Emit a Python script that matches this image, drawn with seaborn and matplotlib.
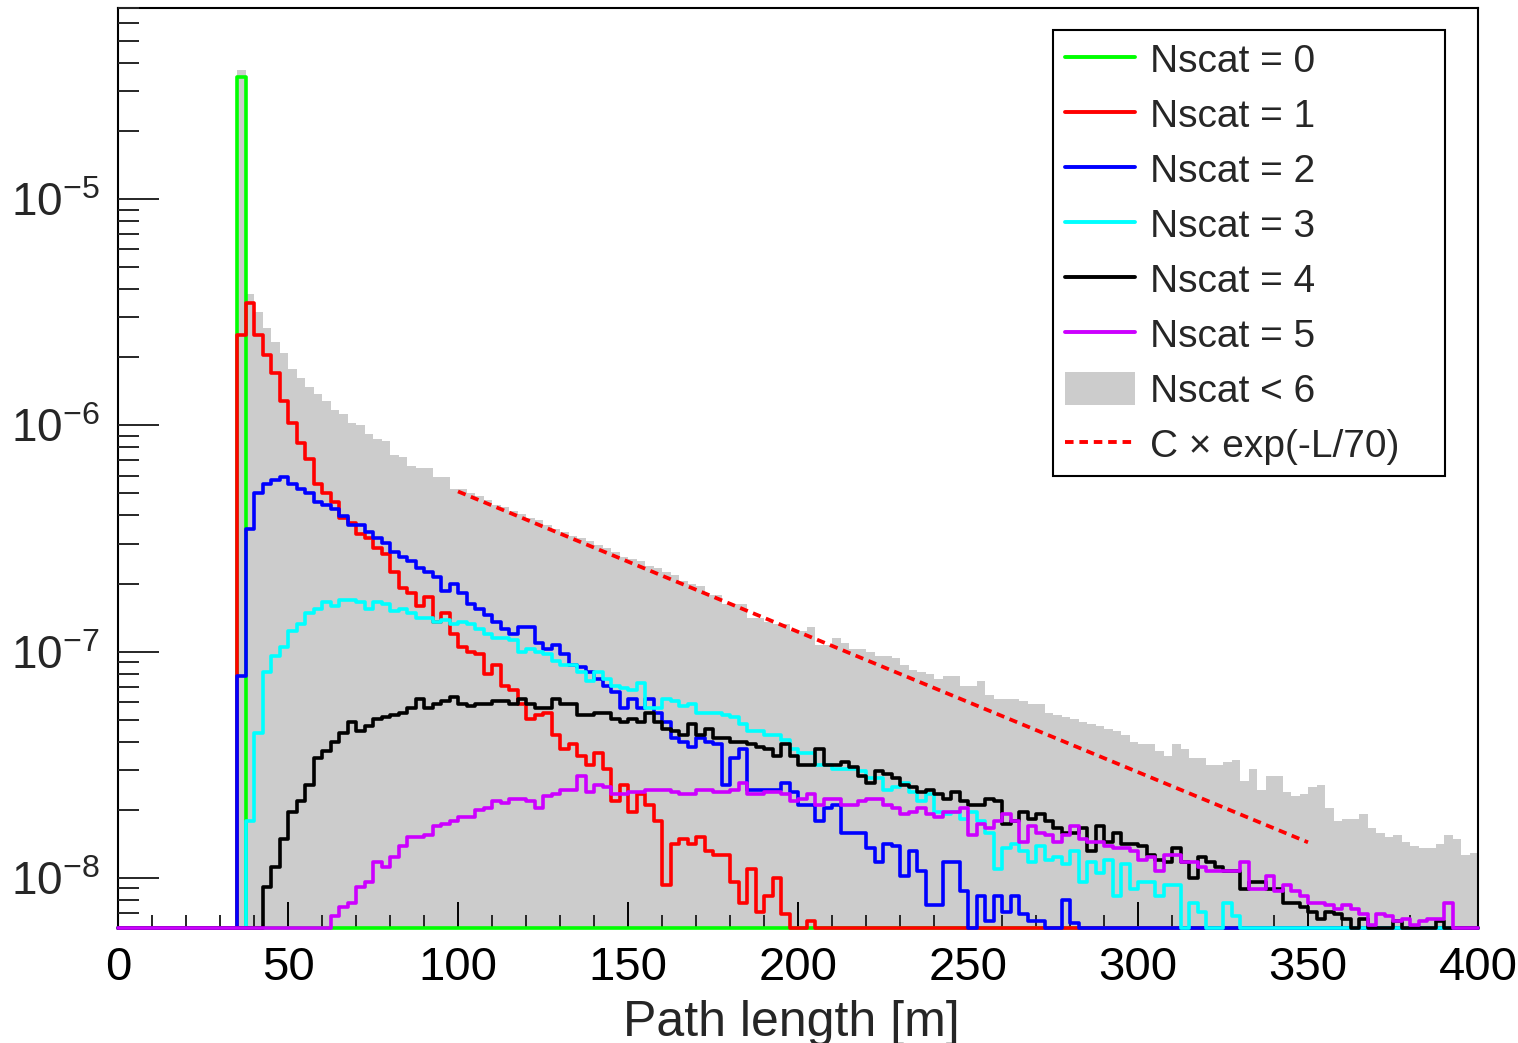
import numpy as np
import pandas as pd
import matplotlib
matplotlib.use("Agg")
import matplotlib.pyplot as plt
import seaborn as sns
from matplotlib.lines import Line2D
from matplotlib.patches import Patch
from matplotlib.ticker import LogLocator, NullFormatter, FuncFormatter, MultipleLocator

# ---------------- data ----------------
bin_width = 2.5
x_lo, x_hi = 0.0, 400.0
y_lo, y_hi = 6e-9, 7e-5

# log10(bin content), consecutive 2.5 m bins starting at *_start; None = empty bin
nscat0_start = 35.0
nscat0_log10 = [-4.46]

nscat1_start = 35.0
nscat1_log10 = [
    -5.60, -5.46, -5.60, -5.69, -5.77, -5.89, -5.99, -6.08,   # 35
    -6.15, -6.26, -6.30, -6.34, -6.41, -6.43, -6.48, -6.50,   # 55
    -6.54, -6.57, -6.65, -6.72, -6.74, -6.80, -6.76, -6.87,   # 75
    -6.83, -6.92, -6.98, -7.00, -7.01, -7.10, -7.06, -7.15,   # 95
    -7.17, -7.23, -7.30, -7.28, -7.27, -7.37, -7.43, -7.41,   # 115
    -7.46, -7.50, -7.45, -7.52, -7.66, -7.59, -7.71, -7.63,   # 135
    -7.68, -7.75, -8.03, -7.85, -7.83, -7.85, -7.82, -7.88,   # 155
    -7.90, -7.90, -8.02, -8.11, -7.96, -8.15, -8.08, -8.00,   # 175
    -8.16, None, None, -8.19,                                 # 195
]

nscat2_start = 35.0
nscat2_log10 = [
    -7.11, -6.46, -6.30, -6.26, -6.24, -6.23, -6.26, -6.28,   # 35
    -6.30, -6.34, -6.35, -6.37, -6.40, -6.44, -6.44, -6.47,   # 55
    -6.50, -6.52, -6.56, -6.58, -6.60, -6.63, -6.65, -6.67,   # 75
    -6.73, -6.70, -6.74, -6.79, -6.81, -6.84, -6.87, -6.90,   # 95
    -6.92, -6.89, -6.89, -6.96, -6.99, -6.97, -7.01, -7.06,   # 115
    -7.07, -7.09, -7.12, -7.15, -7.18, -7.25, -7.21, -7.25,   # 135
    -7.21, -7.27, -7.31, -7.38, -7.40, -7.42, -7.38, -7.40,   # 155
    -7.41, -7.59, -7.47, -7.43, -7.61, -7.61, -7.61, -7.61,   # 175
    -7.58, -7.62, -7.68, -7.68, -7.75, -7.69, -7.68, -7.80,   # 195
    -7.80, -7.80, -7.87, -7.93, -7.85, -7.86, -7.99, -7.88,   # 215
    -7.97, -8.12, -8.12, -7.93, -7.93, -8.06, None, -8.08,    # 235
    -8.19, -8.08, -8.15, -8.08, -8.16, -8.19, -8.19, None,    # 255
    None, -8.10, -8.20,                                       # 275
]

nscat3_start = 37.5
nscat3_log10 = [
    -7.75, -7.36, -7.09, -7.02, -6.98, -6.91, -6.88, -6.83,   # 37.5
    -6.81, -6.78, -6.80, -6.77, -6.77, -6.78, -6.81, -6.78,   # 57.5
    -6.79, -6.82, -6.81, -6.83, -6.85, -6.85, -6.87, -6.86,   # 77.5
    -6.88, -6.87, -6.88, -6.90, -6.92, -6.94, -6.94, -6.95,   # 97.5
    -7.00, -6.99, -7.00, -7.01, -7.04, -7.06, -7.06, -7.09,   # 117.5
    -7.13, -7.09, -7.12, -7.15, -7.16, -7.17, -7.14, -7.25,   # 137.5
    -7.25, -7.21, -7.22, -7.24, -7.23, -7.27, -7.27, -7.27,   # 157.5
    -7.28, -7.29, -7.32, -7.35, -7.35, -7.37, -7.37, -7.39,   # 177.5
    -7.43, -7.45, -7.45, -7.50, -7.50, -7.52, -7.52, -7.52,   # 197.5
    -7.53, -7.56, -7.56, -7.61, -7.60, -7.58, -7.62, -7.66,   # 217.5
    -7.63, -7.71, -7.72, -7.71, -7.74, -7.71, -7.75, -7.80,   # 237.5
    -7.96, -7.87, -7.85, -7.88, -7.93, -7.86, -7.92, -7.91,   # 257.5
    -7.94, -7.88, -8.02, -7.93, -7.98, -7.92, -8.08, -7.94,   # 277.5
    -8.05, -8.02, -8.02, -8.08, -8.03, -8.03, None, -8.11,    # 297.5
    -8.15, None, None, -8.11, -8.17,                          # 317.5
]

nscat4_start = 42.5
nscat4_log10 = [
    -8.04, -7.95, -7.83, -7.71, -7.66, -7.59, -7.47, -7.44,   # 42.5
    -7.40, -7.36, -7.31, -7.35, -7.33, -7.30, -7.29, -7.28,   # 62.5
    -7.27, -7.25, -7.21, -7.25, -7.23, -7.22, -7.20, -7.23,   # 82.5
    -7.24, -7.23, -7.23, -7.22, -7.22, -7.23, -7.21, -7.23,   # 102.5
    -7.25, -7.25, -7.21, -7.23, -7.23, -7.28, -7.28, -7.27,   # 122.5
    -7.27, -7.30, -7.31, -7.30, -7.31, -7.27, -7.31, -7.34,   # 142.5
    -7.35, -7.37, -7.32, -7.37, -7.34, -7.38, -7.38, -7.40,   # 162.5
    -7.40, -7.41, -7.42, -7.43, -7.46, -7.41, -7.46, -7.50,   # 182.5
    -7.50, -7.43, -7.50, -7.50, -7.49, -7.51, -7.55, -7.58,   # 202.5
    -7.53, -7.54, -7.56, -7.59, -7.60, -7.62, -7.61, -7.63,   # 222.5
    -7.65, -7.62, -7.66, -7.68, -7.68, -7.65, -7.66, -7.76,   # 242.5
    -7.75, -7.71, -7.74, -7.72, -7.75, -7.78, -7.80, -7.80,   # 262.5
    -7.78, -7.88, -7.77, -7.84, -7.80, -7.85, -7.85, -7.86,   # 282.5
    -7.90, -7.92, -7.93, -7.87, -7.93, -8.00, -7.91, -7.93,   # 302.5
    -7.95, -7.97, -7.97, -8.05, -8.02, -8.02, -8.05, -8.05,   # 322.5
    -8.11, -8.11, -8.13, -8.15, -8.18, -8.15, -8.16, -8.18,   # 342.5
    None, -8.18, None, None, None, -8.19, None, None,         # 362.5
    None, None, -8.19,                                        # 382.5
]

nscat5_start = 62.5
nscat5_log10 = [
    -8.17, -8.13, -8.11, -8.04, -8.02, -7.93, -7.95, -7.91,   # 62.5
    -7.86, -7.82, -7.82, -7.81, -7.77, -7.76, -7.75, -7.73,   # 82.5
    -7.73, -7.70, -7.69, -7.66, -7.67, -7.65, -7.65, -7.66,   # 102.5
    -7.69, -7.64, -7.63, -7.61, -7.61, -7.55, -7.62, -7.59,   # 122.5
    -7.60, -7.63, -7.63, -7.62, -7.62, -7.61, -7.61, -7.61,   # 142.5
    -7.62, -7.63, -7.63, -7.61, -7.61, -7.62, -7.62, -7.61,   # 162.5
    -7.58, -7.63, -7.63, -7.62, -7.62, -7.63, -7.66, -7.65,   # 182.5
    -7.63, -7.68, -7.65, -7.65, -7.68, -7.68, -7.66, -7.65,   # 202.5
    -7.65, -7.68, -7.69, -7.72, -7.71, -7.69, -7.72, -7.73,   # 222.5
    -7.71, -7.71, -7.69, -7.81, -7.76, -7.78, -7.75, -7.72,   # 242.5
    -7.75, -7.84, -7.77, -7.80, -7.81, -7.84, -7.81, -7.77,   # 262.5
    -7.83, -7.84, -7.84, -7.86, -7.87, -7.87, -7.88, -7.92,   # 282.5
    -7.91, -7.97, -7.90, -7.90, -7.93, -7.93, -7.95, -7.97,   # 302.5
    -7.97, -7.97, -7.97, -7.93, -8.05, -8.05, -7.99, -8.06,   # 322.5
    -8.03, -8.06, -8.08, -8.11, -8.11, -8.12, -8.14, -8.12,   # 342.5
    -8.14, -8.16, -8.21, -8.16, -8.17, -8.19, -8.18, -8.21,   # 362.5
    -8.19, -8.18, -8.18, -8.11,                               # 382.5
]

total_start = 35.0
total_log10 = [
    -4.43, -5.42, -5.50, -5.57, -5.63, -5.68, -5.75, -5.79,   # 35
    -5.83, -5.86, -5.89, -5.93, -5.95, -5.99, -6.00, -6.04,   # 55
    -6.06, -6.07, -6.13, -6.14, -6.18, -6.19, -6.19, -6.23,   # 75
    -6.23, -6.28, -6.28, -6.30, -6.31, -6.33, -6.35, -6.36,   # 95
    -6.38, -6.39, -6.41, -6.42, -6.44, -6.46, -6.47, -6.49,   # 115
    -6.50, -6.51, -6.53, -6.54, -6.56, -6.58, -6.59, -6.60,   # 135
    -6.62, -6.63, -6.65, -6.66, -6.69, -6.70, -6.71, -6.75,   # 155
    -6.75, -6.79, -6.79, -6.79, -6.85, -6.85, -6.87, -6.88,   # 175
    -6.88, -6.91, -6.91, -6.89, -6.97, -6.97, -6.94, -6.96,   # 195
    -6.99, -6.99, -7.00, -7.02, -7.02, -7.03, -7.06, -7.08,   # 215
    -7.09, -7.10, -7.12, -7.11, -7.11, -7.15, -7.15, -7.13,   # 235
    -7.19, -7.21, -7.21, -7.21, -7.22, -7.23, -7.23, -7.27,   # 255
    -7.28, -7.29, -7.30, -7.31, -7.32, -7.33, -7.34, -7.35,   # 275
    -7.37, -7.40, -7.41, -7.41, -7.44, -7.46, -7.41, -7.43,   # 295
    -7.47, -7.47, -7.50, -7.50, -7.49, -7.48, -7.57, -7.52,   # 315
    -7.61, -7.55, -7.55, -7.62, -7.64, -7.63, -7.60, -7.59,   # 335
    -7.69, -7.75, -7.74, -7.74, -7.72, -7.78, -7.80, -7.82,   # 355
    -7.81, -7.84, -7.86, -7.87, -7.87, -7.85, -7.81, -7.83,   # 375
    -7.90, -7.89,                                             # 395
]

# fitted function C x exp(-L/tau)
fit_C = 2.13e-6
fit_tau = 70.0
fit_L_from, fit_L_to = 100.0, 350.0

series_labels = ["Nscat = 0", "Nscat = 1", "Nscat = 2", "Nscat = 3", "Nscat = 4", "Nscat = 5"]
total_label = "Nscat < 6"
fit_label = "C \u00d7 exp(-L/70)"
series_colors = ["#00ff00", "#ff0000", "#0000ff", "#00ffff", "#000000", "#cc00ff"]
total_color = "#cccccc"
fit_color = "#ff0000"
x_label = "Path length [m]"

# ---------------- build bins ----------------
n_bins = int(round((x_hi - x_lo) / bin_width))
edges = x_lo + bin_width * np.arange(n_bins + 1)
centers = 0.5 * (edges[:-1] + edges[1:])


def fill_bins(start, logs):
    # empty bins sit on the lower frame edge, as ROOT draws them
    vals = np.full(n_bins, y_lo)
    i0 = int(round((start - x_lo) / bin_width))
    for k, lv in enumerate(logs):
        if lv is not None and 0 <= i0 + k < n_bins:
            vals[i0 + k] = 10.0 ** lv
    return vals


series = [
    fill_bins(nscat0_start, nscat0_log10),
    fill_bins(nscat1_start, nscat1_log10),
    fill_bins(nscat2_start, nscat2_log10),
    fill_bins(nscat3_start, nscat3_log10),
    fill_bins(nscat4_start, nscat4_log10),
    fill_bins(nscat5_start, nscat5_log10),
]
total = fill_bins(total_start, total_log10)

# ---------------- style ----------------
sns.set_style("white")
plt.rcParams["font.family"] = ["Liberation Sans", "DejaVu Sans"]
plt.rcParams["mathtext.fontset"] = "custom"
plt.rcParams["mathtext.rm"] = "Liberation Sans"
plt.rcParams["mathtext.it"] = "Liberation Sans:italic"
plt.rcParams["mathtext.bf"] = "Liberation Sans:bold"

W, H = 1518, 1043
fig = plt.figure(figsize=(W / 100, H / 100), dpi=100)
ax_l, ax_r, ax_t, ax_b = 118, 1478, 8, 928
ax = fig.add_axes([ax_l / W, 1 - ax_b / H, (ax_r - ax_l) / W, (ax_b - ax_t) / H])
ax.set_axisbelow(False)

hist_kw = dict(x="L", weights="w", binwidth=bin_width, binrange=(x_lo, x_hi),
               element="step", stat="count", ax=ax)
sns.histplot(data=pd.DataFrame({"L": centers, "w": total}), fill=True,
             color=total_color, alpha=1.0, linewidth=0, zorder=1, **hist_kw)
for vals, col in zip(series, series_colors):
    sns.histplot(data=pd.DataFrame({"L": centers, "w": vals}), fill=False,
                 color=col, linewidth=2.6, zorder=3, clip_on=False, **hist_kw)

fit_L = np.linspace(fit_L_from, fit_L_to, 300)
sns.lineplot(x=fit_L, y=fit_C * np.exp(-fit_L / fit_tau), color=fit_color,
             linewidth=2.7, linestyle=(0, (2.2, 1.5)), ax=ax, zorder=4)

ax.set_yscale("log")
ax.set_xlim(x_lo, x_hi)
ax.set_ylim(y_lo, y_hi)
ax.set_ylabel("")

ax.xaxis.set_major_locator(MultipleLocator(50))
ax.xaxis.set_minor_locator(MultipleLocator(10))
ax.yaxis.set_major_locator(LogLocator(base=10, numticks=20))
ax.yaxis.set_minor_locator(LogLocator(base=10, subs=np.arange(2, 10), numticks=100))
ax.yaxis.set_minor_formatter(NullFormatter())
ax.yaxis.set_major_formatter(FuncFormatter(
    lambda v, p: r"$\mathregular{10^{%d}}$" % int(round(np.log10(v)))))

ax.tick_params(axis="x", which="major", direction="in", length=19, width=1.4,
               bottom=True, top=False, labelsize=34, pad=13, colors="black")
ax.tick_params(axis="x", which="minor", direction="in", length=9.5, width=1.4,
               bottom=True, top=False)
ax.tick_params(axis="y", which="major", direction="in", length=29.5, width=1.4,
               left=True, right=False, labelsize=33, pad=13)
ax.tick_params(axis="y", which="minor", direction="in", length=14.8, width=1.4,
               left=True, right=False)
for sp in ax.spines.values():
    sp.set_linewidth(1.5)
    sp.set_color("black")
    sp.set_zorder(2.5)

ax.set_xlabel(x_label, fontsize=36, va="baseline")
ax.xaxis.set_label_coords((791 - ax_l) / (ax_r - ax_l), (ax_b - 1036) / (ax_b - ax_t))

handles = [Line2D([0], [0], color=c, lw=2.8) for c in series_colors]
handles.append(Patch(facecolor=total_color, edgecolor="none"))
handles.append(Line2D([0], [0], color=fit_color, lw=2.8, linestyle=(0, (2.2, 1.5))))
labels = series_labels + [total_label, fit_label]

lg_l, lg_t, lg_r, lg_b = 1053, 30, 1445, 468
leg = fig.legend(handles, labels, loc="upper left",
                 bbox_to_anchor=(lg_l / W, 1 - lg_b / H, (lg_r - lg_l) / W, (lg_b - lg_t) / H),
                 bbox_transform=fig.transFigure, mode="expand", borderaxespad=0,
                 fontsize=28, handlelength=1.8, handletextpad=0.4, handleheight=0.93,
                 labelspacing=0.44, borderpad=0.3, frameon=True, fancybox=False,
                 edgecolor="black", framealpha=1.0)
leg.get_frame().set_linewidth(1.5)
leg.set_zorder(10)

fig.savefig("out.png", dpi=100)
